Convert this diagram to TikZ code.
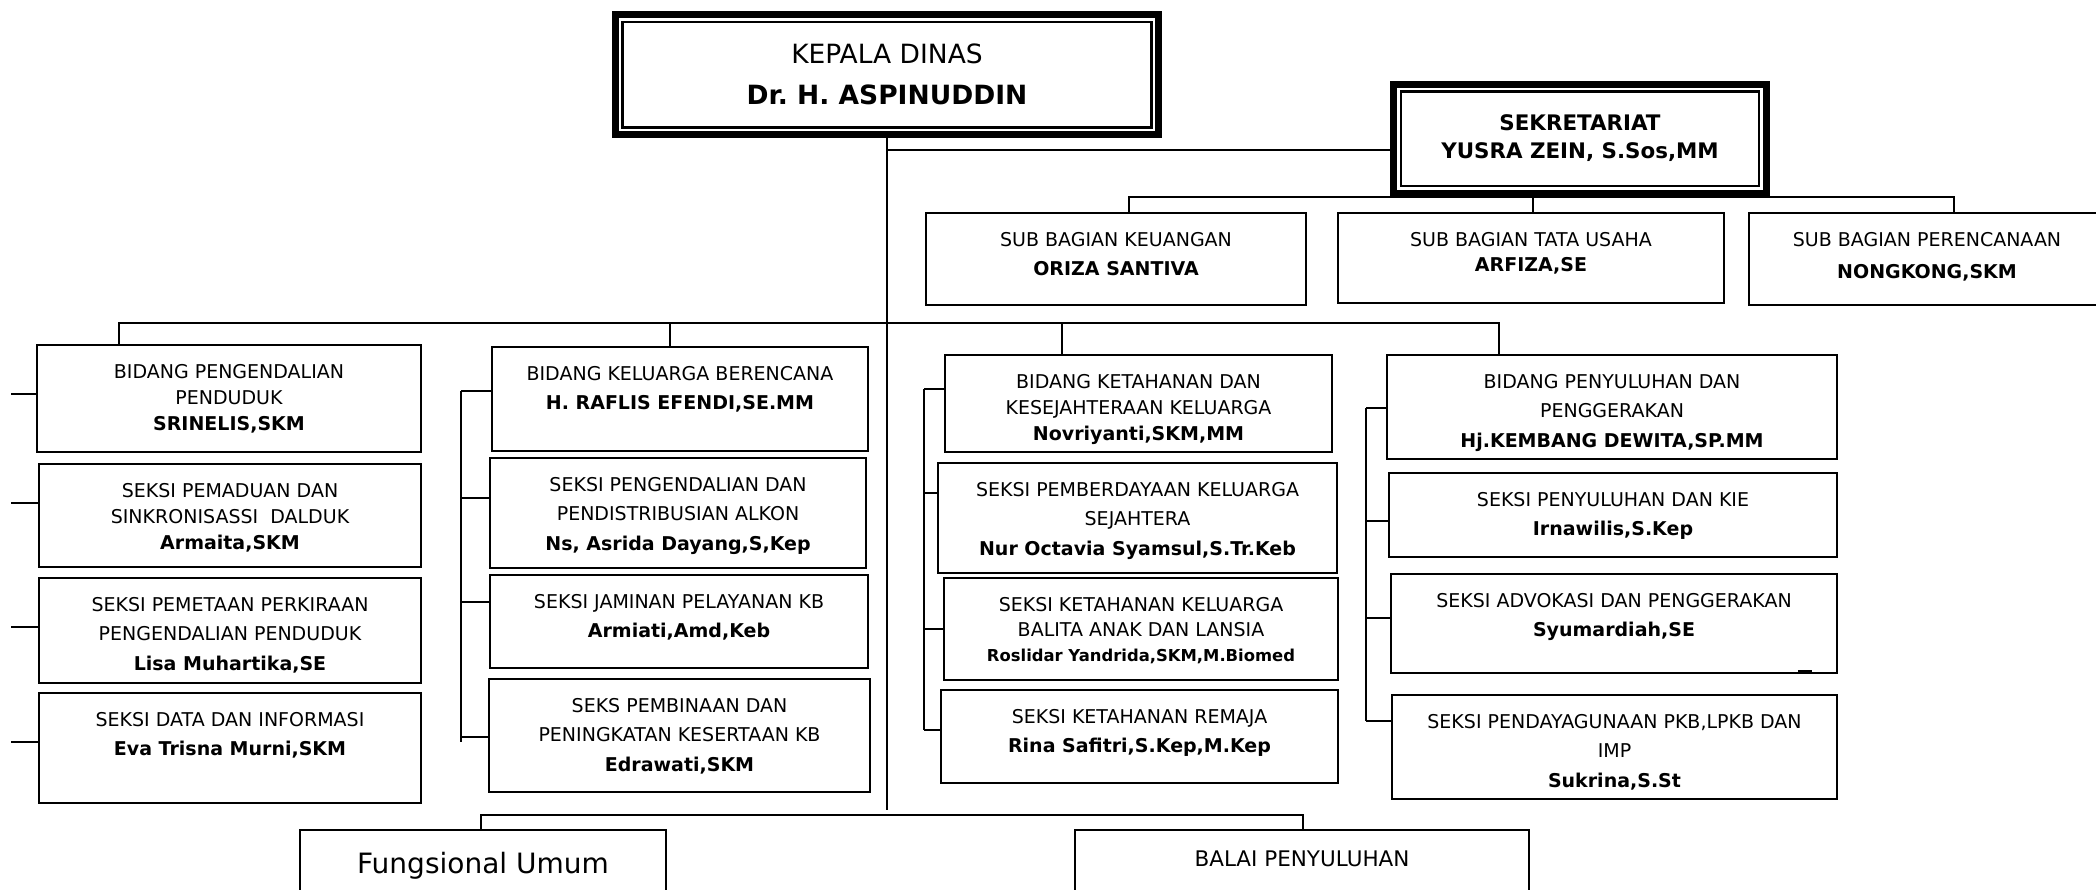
\documentclass[tikz,border=0pt]{standalone}
\usepackage{fontspec}
\setmainfont{DejaVu Sans}
\usetikzlibrary{positioning,fit}
\frenchspacing

\begin{document}
\begin{tikzpicture}[x=1pt, y=-1pt, line width=2pt,
    box/.style={draw, inner sep=0pt},
    headbox/.style={draw, line width=7pt, inner sep=0pt},
    txt/.style={align=center, inner sep=0pt, font=\fontsize{19}{29.5}\selectfont},
    tight/.style={txt, font=\fontsize{19}{26}\selectfont}]
    \useasboundingbox (0,0) rectangle (2096,890);
    \clip (0,0) rectangle (2096,890);

    % kepala dinas and sekretariat
    \node[headbox, fit={(615.5,15) (1158.5,134.5)}] (kadis) {};
    \draw[line width=2.5pt] ([shift={(10.5pt,-10.5pt)}]kadis.north west) rectangle ([shift={(-10.5pt,10.5pt)}]kadis.south east);
    \node[txt, font=\fontsize{26.5}{41}\selectfont, below=31.8pt of kadis.north] (kadis-t) {KEPALA DINAS\\\textbf{Dr. H. ASPINUDDIN}};
    \node[headbox, fit={(1393.5,84.2) (1766.5,193.5)}] (sekr) {};
    \draw[line width=2.5pt] ([shift={(11pt,-11pt)}]sekr.north west) rectangle ([shift={(-11pt,11pt)}]sekr.south east);
    \node[txt, font=\fontsize{21.4}{28}\selectfont\bfseries, below=32.5pt of sekr.north] (sekr-t) {SEKRETARIAT\\YUSRA ZEIN, S.Sos,MM};

    % sub bagian
    \node[box, fit={(926,213) (1306,305)}] (keu) {};
    \node[txt, below=19pt of keu.north] (keu-t) {SUB BAGIAN KEUANGAN\\\textbf{ORIZA SANTIVA}};
    \node[box, fit={(1338,213) (1724,303)}] (tu) {};
    \node[txt, font=\fontsize{19}{25}\selectfont, below=19pt of tu.north] (tu-t) {SUB BAGIAN TATA USAHA\\\textbf{ARFIZA,SE}};
    \node[box, fit={(1749,213) (2105,305)}] (ren) {};
    \node[txt, font=\fontsize{19}{32}\selectfont, below=19pt of ren.north] (ren-t) {SUB BAGIAN PERENCANAAN\\\textbf{NONGKONG,SKM}};

    % bidang pengendalian penduduk
    \node[box, fit={(37,345) (421,452)}] (pp) {};
    \node[tight, below=19pt of pp.north] (pp-t) {BIDANG PENGENDALIAN\\PENDUDUK\\\textbf{SRINELIS,SKM}};
    \node[box, fit={(39,464) (421,567)}] (s11) {};
    \node[tight, below=19pt of s11.north] (s11-t) {SEKSI PEMADUAN DAN\\SINKRONISASSI~~DALDUK\\\textbf{Armaita,SKM}};
    \node[box, fit={(39,578) (421,683)}] (s12) {};
    \node[txt, below=19pt of s12.north] (s12-t) {SEKSI PEMETAAN PERKIRAAN\\PENGENDALIAN PENDUDUK\\\textbf{Lisa Muhartika,SE}};
    \node[box, fit={(39,693) (421,803)}] (s13) {};
    \node[txt, below=19pt of s13.north] (s13-t) {SEKSI DATA DAN INFORMASI\\\textbf{Eva Trisna Murni,SKM}};

    % bidang keluarga berencana
    \node[box, fit={(492,347) (868,451)}] (kb) {};
    \node[txt, below=19pt of kb.north] (kb-t) {BIDANG KELUARGA BERENCANA\\\textbf{H. RAFLIS EFENDI,SE.MM}};
    \node[box, fit={(490,458) (866,568)}] (s21) {};
    \node[txt, below=19pt of s21.north] (s21-t) {SEKSI PENGENDALIAN DAN\\PENDISTRIBUSIAN ALKON\\\textbf{Ns, Asrida Dayang,S,Kep}};
    \node[box, fit={(490,575) (868,668)}] (s22) {};
    \node[txt, below=19pt of s22.north] (s22-t) {SEKSI JAMINAN PELAYANAN KB\\\textbf{Armiati,Amd,Keb}};
    \node[box, fit={(489,679) (870,792)}] (s23) {};
    \node[txt, below=19pt of s23.north] (s23-t) {SEKS PEMBINAAN DAN\\PENINGKATAN KESERTAAN KB\\\textbf{Edrawati,SKM}};

    % bidang ketahanan
    \node[box, fit={(945,355) (1332,452)}] (kk) {};
    \node[tight, below=19pt of kk.north] (kk-t) {BIDANG KETAHANAN DAN\\KESEJAHTERAAN KELUARGA\\\textbf{Novriyanti,SKM,MM}};
    \node[box, fit={(938,463) (1337,573)}] (s31) {};
    \node[txt, below=19pt of s31.north] (s31-t) {SEKSI PEMBERDAYAAN KELUARGA\\SEJAHTERA\\\textbf{Nur Octavia Syamsul,S.Tr.Keb}};
    \node[box, fit={(944,578) (1338,680)}] (s32) {};
    \node[txt, font=\fontsize{19}{25}\selectfont, below=19pt of s32.north] (s32-t) {SEKSI KETAHANAN KELUARGA\\BALITA ANAK DAN LANSIA\\{\fontsize{16.4}{25}\selectfont\bfseries Roslidar Yandrida,SKM,M.Biomed}};
    \node[box, fit={(941,690) (1338,783)}] (s33) {};
    \node[txt, below=19pt of s33.north] (s33-t) {SEKSI KETAHANAN REMAJA\\\textbf{Rina Safitri,S.Kep,M.Kep}};

    % bidang penyuluhan
    \node[box, fit={(1387,355) (1837,459)}] (pg) {};
    \node[txt, below=19pt of pg.north] (pg-t) {BIDANG PENYULUHAN DAN\\PENGGERAKAN\\\textbf{Hj.KEMBANG DEWITA,SP.MM}};
    \node[box, fit={(1389,473) (1837,557)}] (s41) {};
    \node[txt, below=19pt of s41.north] (s41-t) {SEKSI PENYULUHAN DAN KIE\\\textbf{Irnawilis,S.Kep}};
    \node[box, fit={(1391,574) (1837,673)}] (s42) {};
    \node[txt, below=19pt of s42.north] (s42-t) {SEKSI ADVOKASI DAN PENGGERAKAN\\\textbf{Syumardiah,SE}};
    \draw[line width=2.5pt] (1798,671) -- (1812,671);
    \node[box, fit={(1392,695) (1837,799)}] (s43) {};
    \node[txt, below=19pt of s43.north] (s43-t) {SEKSI PENDAYAGUNAAN PKB,LPKB DAN\\IMP\\\textbf{Sukrina,S.St}};

    % fungsional and balai
    \node[box, fit={(300,830) (666,900)}] (fu) {};
    \node[txt, font=\fontsize{28}{34}\selectfont, below=22pt of fu.north] (fu-t) {Fungsional Umum};
    \node[box, fit={(1075,830) (1529,900)}] (balai) {};
    \node[txt, font=\fontsize{21.5}{26}\selectfont, below=21pt of balai.north] (balai-t) {BALAI PENYULUHAN};

    % lines
    \coordinate (kend) at (887,810);
    \coordinate (kj) at (887,150);
    \draw (kadis.south) -- (kend);
    \draw (kj) -- (kj -| sekr.west);

    \coordinate (sa) at (1129,197);
    \coordinate (sb) at (1533,197);
    \coordinate (sc) at (1954,197);
    \draw (keu.north -| sa) -- (sa) -- (sc) -- (ren.north -| sc);
    \draw (sb) -- (tu.north -| sb);

    \coordinate (ba) at (119,323);
    \coordinate (bb) at (670,323);
    \coordinate (bc) at (1062,323);
    \coordinate (bd) at (1499,323);
    \draw (pp.north -| ba) -- (ba) -- (bd) -- (pg.north -| bd);
    \draw (bb) -- (kb.north -| bb);
    \draw (bc) -- (kk.north -| bc);

    \foreach \y/\b [count=\i] in {394/pp,503/s11,627/s12,742/s13} {
        \coordinate (c1-\i) at (11,\y);
        \draw (c1-\i) -- (c1-\i -| \b.west);
    }
    \foreach \y/\b [count=\i] in {391/kb,498/s21,602/s22,737/s23} {
        \coordinate (c2-\i) at (461,\y);
        \draw (c2-\i) -- (c2-\i -| \b.west);
    }
    \coordinate (c2-end) at (461,742);
    \draw (c2-1) -- (c2-end);
    \foreach \y/\b [count=\i] in {389/kk,493/s31,629/s32,730/s33} {
        \coordinate (c3-\i) at (924,\y);
        \draw (c3-\i) -- (c3-\i -| \b.west);
    }
    \draw (c3-1) -- (c3-4);
    \foreach \y/\b [count=\i] in {408/pg,521/s41,618/s42,721/s43} {
        \coordinate (c4-\i) at (1366,\y);
        \draw (c4-\i) -- (c4-\i -| \b.west);
    }
    \draw (c4-1) -- (c4-4);

    \coordinate (fa) at (481,815);
    \coordinate (fb) at (1303,815);
    \draw (fu.north -| fa) -- (fa) -- (fb) -- (balai.north -| fb);
\end{tikzpicture}
\end{document}
